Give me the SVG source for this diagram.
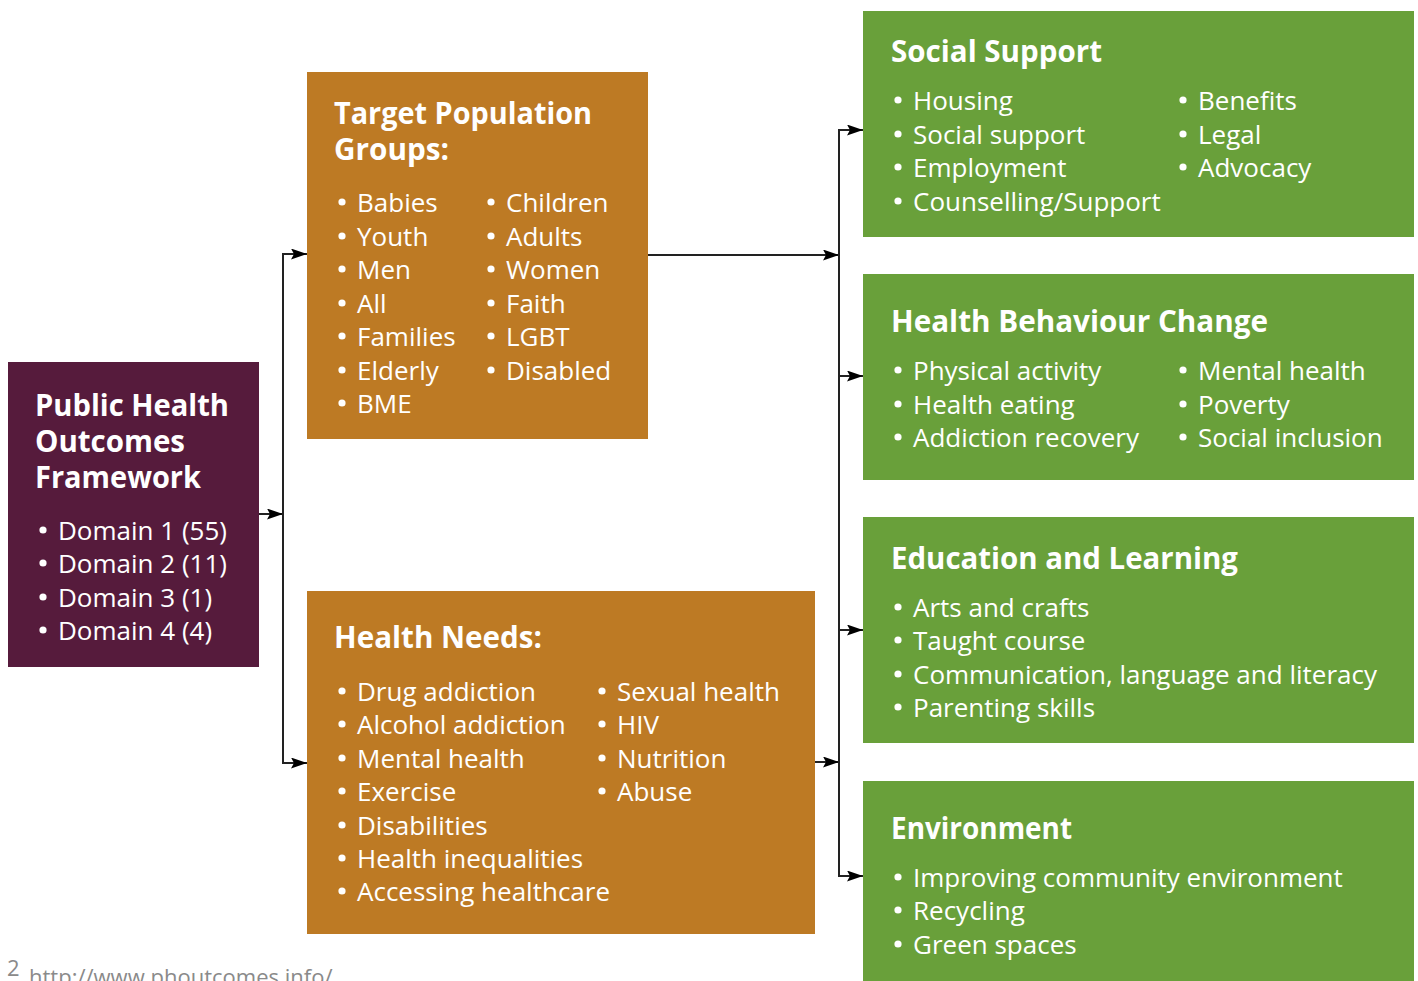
<svg xmlns="http://www.w3.org/2000/svg" width="1418" height="981" viewBox="0 0 1418 981">
  <defs>
    <marker id="arrow" viewBox="0 0 16 11" refX="16" refY="5.5" markerWidth="16" markerHeight="11" markerUnits="userSpaceOnUse" orient="auto">
      <path d="M0,0 L16,5.5 L0,11 L3,5.5 Z" fill="#000"/>
    </marker>
    <style>
      .purple { fill: #561B3C; }
      .orange { fill: #BD7A24; }
      .green { fill: #69A03A; }
      .head { font-family: "Open Sans", "Liberation Sans", sans-serif; font-weight: bold; font-size: 30px; fill: #fff; }
      .item { font-family: "Open Sans", "Liberation Sans", sans-serif; font-size: 26px; fill: #fff; }
      .bullets circle { fill: #fff; }
      .link { fill: none; stroke: #222; stroke-width: 2; }
      .note { font-family: "Open Sans", "Liberation Sans", sans-serif; font-size: 22px; fill: #8a8a8a; }
    </style>
  </defs>
  <rect width="1418" height="981" fill="#fff"/>

  <g id="connectors">
    <line class="link" x1="259" y1="514" x2="283" y2="514" marker-end="url(#arrow)"/>
    <polyline class="link" points="307,254 283,254 283,763 307,763"/>
    <line class="link" x1="283" y1="254" x2="307" y2="254" marker-end="url(#arrow)"/>
    <line class="link" x1="283" y1="763" x2="307" y2="763" marker-end="url(#arrow)"/>
    <line class="link" x1="648" y1="255" x2="839" y2="255" marker-end="url(#arrow)"/>
    <line class="link" x1="815" y1="762" x2="839" y2="762" marker-end="url(#arrow)"/>
    <polyline class="link" points="863,130 839,130 839,876 863,876"/>
    <line class="link" x1="839" y1="130" x2="863" y2="130" marker-end="url(#arrow)"/>
    <line class="link" x1="839" y1="376" x2="863" y2="376" marker-end="url(#arrow)"/>
    <line class="link" x1="839" y1="630" x2="863" y2="630" marker-end="url(#arrow)"/>
    <line class="link" x1="839" y1="876" x2="863" y2="876" marker-end="url(#arrow)"/>
  </g>

  <g id="phof">
    <rect class="purple" x="8" y="362" width="251" height="305"/>
    <text class="head" x="35" y="416" textLength="194" lengthAdjust="spacingAndGlyphs">Public Health</text>
    <text class="head" x="35" y="452" textLength="150" lengthAdjust="spacingAndGlyphs">Outcomes</text>
    <text class="head" x="35" y="488" textLength="166" lengthAdjust="spacingAndGlyphs">Framework</text>
    <g class="bullets">
      <circle cx="43" cy="530" r="3.6"/><circle cx="43" cy="563" r="3.6"/>
      <circle cx="43" cy="597" r="3.6"/><circle cx="43" cy="630" r="3.6"/>
    </g>
    <text class="item" x="58" y="540">Domain 1 (55)</text>
    <text class="item" x="58" y="573">Domain 2 (11)</text>
    <text class="item" x="58" y="607">Domain 3 (1)</text>
    <text class="item" x="58" y="640">Domain 4 (4)</text>
  </g>

  <g id="target-groups">
    <rect class="orange" x="307" y="72" width="341" height="367"/>
    <text class="head" x="334" y="124" textLength="258" lengthAdjust="spacingAndGlyphs">Target Population</text>
    <text class="head" x="334" y="160" textLength="115" lengthAdjust="spacingAndGlyphs">Groups:</text>
    <g class="bullets">
      <circle cx="342" cy="202" r="3.6"/><circle cx="342" cy="236" r="3.6"/>
      <circle cx="342" cy="269" r="3.6"/><circle cx="342" cy="303" r="3.6"/>
      <circle cx="342" cy="336" r="3.6"/><circle cx="342" cy="370" r="3.6"/>
      <circle cx="342" cy="403" r="3.6"/>
      <circle cx="491" cy="202" r="3.6"/><circle cx="491" cy="236" r="3.6"/>
      <circle cx="491" cy="269" r="3.6"/><circle cx="491" cy="303" r="3.6"/>
      <circle cx="491" cy="336" r="3.6"/><circle cx="491" cy="370" r="3.6"/>
    </g>
    <text class="item" x="357" y="212">Babies</text>
    <text class="item" x="357" y="246">Youth</text>
    <text class="item" x="357" y="279">Men</text>
    <text class="item" x="357" y="313">All</text>
    <text class="item" x="357" y="346">Families</text>
    <text class="item" x="357" y="380">Elderly</text>
    <text class="item" x="357" y="413">BME</text>
    <text class="item" x="506" y="212">Children</text>
    <text class="item" x="506" y="246">Adults</text>
    <text class="item" x="506" y="279">Women</text>
    <text class="item" x="506" y="313">Faith</text>
    <text class="item" x="506" y="346">LGBT</text>
    <text class="item" x="506" y="380">Disabled</text>
  </g>

  <g id="health-needs">
    <rect class="orange" x="307" y="591" width="508" height="343"/>
    <text class="head" x="334" y="648" textLength="208" lengthAdjust="spacingAndGlyphs">Health Needs:</text>
    <g class="bullets">
      <circle cx="342" cy="691" r="3.6"/><circle cx="342" cy="724" r="3.6"/>
      <circle cx="342" cy="758" r="3.6"/><circle cx="342" cy="791" r="3.6"/>
      <circle cx="342" cy="825" r="3.6"/><circle cx="342" cy="858" r="3.6"/>
      <circle cx="342" cy="891" r="3.6"/>
      <circle cx="602" cy="691" r="3.6"/><circle cx="602" cy="724" r="3.6"/>
      <circle cx="602" cy="758" r="3.6"/><circle cx="602" cy="791" r="3.6"/>
    </g>
    <text class="item" x="357" y="701">Drug addiction</text>
    <text class="item" x="357" y="734">Alcohol addiction</text>
    <text class="item" x="357" y="768">Mental health</text>
    <text class="item" x="357" y="801">Exercise</text>
    <text class="item" x="357" y="835">Disabilities</text>
    <text class="item" x="357" y="868">Health inequalities</text>
    <text class="item" x="357" y="901">Accessing healthcare</text>
    <text class="item" x="617" y="701">Sexual health</text>
    <text class="item" x="617" y="734">HIV</text>
    <text class="item" x="617" y="768">Nutrition</text>
    <text class="item" x="617" y="801">Abuse</text>
  </g>

  <g id="social-support">
    <rect class="green" x="863" y="11" width="551" height="226"/>
    <text class="head" x="891" y="62" textLength="211" lengthAdjust="spacingAndGlyphs">Social Support</text>
    <g class="bullets">
      <circle cx="898" cy="100" r="3.6"/><circle cx="898" cy="134" r="3.6"/>
      <circle cx="898" cy="167" r="3.6"/><circle cx="898" cy="201" r="3.6"/>
      <circle cx="1183" cy="100" r="3.6"/><circle cx="1183" cy="134" r="3.6"/>
      <circle cx="1183" cy="167" r="3.6"/>
    </g>
    <text class="item" x="913" y="110">Housing</text>
    <text class="item" x="913" y="144">Social support</text>
    <text class="item" x="913" y="177">Employment</text>
    <text class="item" x="913" y="211">Counselling/Support</text>
    <text class="item" x="1198" y="110">Benefits</text>
    <text class="item" x="1198" y="144">Legal</text>
    <text class="item" x="1198" y="177">Advocacy</text>
  </g>

  <g id="behaviour-change">
    <rect class="green" x="863" y="274" width="551" height="206"/>
    <text class="head" x="891" y="332" textLength="377" lengthAdjust="spacingAndGlyphs">Health Behaviour Change</text>
    <g class="bullets">
      <circle cx="898" cy="370" r="3.6"/><circle cx="898" cy="404" r="3.6"/>
      <circle cx="898" cy="437" r="3.6"/>
      <circle cx="1183" cy="370" r="3.6"/><circle cx="1183" cy="404" r="3.6"/>
      <circle cx="1183" cy="437" r="3.6"/>
    </g>
    <text class="item" x="913" y="380">Physical activity</text>
    <text class="item" x="913" y="414">Health eating</text>
    <text class="item" x="913" y="447">Addiction recovery</text>
    <text class="item" x="1198" y="380">Mental health</text>
    <text class="item" x="1198" y="414">Poverty</text>
    <text class="item" x="1198" y="447">Social inclusion</text>
  </g>

  <g id="education">
    <rect class="green" x="863" y="517" width="551" height="226"/>
    <text class="head" x="891" y="569" textLength="347" lengthAdjust="spacingAndGlyphs">Education and Learning</text>
    <g class="bullets">
      <circle cx="898" cy="607" r="3.6"/><circle cx="898" cy="640" r="3.6"/>
      <circle cx="898" cy="674" r="3.6"/><circle cx="898" cy="707" r="3.6"/>
    </g>
    <text class="item" x="913" y="617">Arts and crafts</text>
    <text class="item" x="913" y="650">Taught course</text>
    <text class="item" x="913" y="684">Communication, language and literacy</text>
    <text class="item" x="913" y="717">Parenting skills</text>
  </g>

  <g id="environment">
    <rect class="green" x="863" y="781" width="551" height="200"/>
    <text class="head" x="891" y="839" textLength="181" lengthAdjust="spacingAndGlyphs">Environment</text>
    <g class="bullets">
      <circle cx="898" cy="877" r="3.6"/><circle cx="898" cy="910" r="3.6"/>
      <circle cx="898" cy="944" r="3.6"/>
    </g>
    <text class="item" x="913" y="887">Improving community environment</text>
    <text class="item" x="913" y="920">Recycling</text>
    <text class="item" x="913" y="954">Green spaces</text>
  </g>

  <g id="footnote">
    <text class="note" x="7" y="976" font-size="12">2</text>
    <text class="note" x="29" y="985">http://www.phoutcomes.info/</text>
  </g>
</svg>
